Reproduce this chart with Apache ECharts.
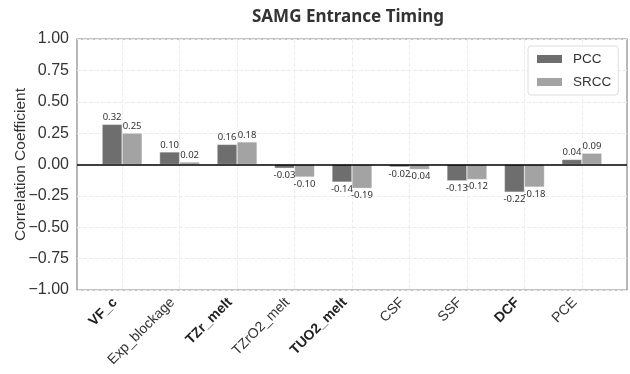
<!DOCTYPE html>
<html>
<head>
<meta charset="utf-8">
<script src="https://cdn.jsdelivr.net/npm/echarts@6/dist/echarts.min.js"></script>
<style>
  html, body { margin: 0; padding: 0; background: #ffffff; }
  #chart { width: 630px; height: 374px; }
</style>
</head>
<body>
<div id="chart"></div>
<script>
// Parameters and their correlation with the SAMG entrance time
const categories = ['VF_c', 'Exp_blockage', 'TZr_melt', 'TZrO2_melt', 'TUO2_melt', 'CSF', 'SSF', 'DCF', 'PCE'];
const boldCategories = ['VF_c', 'TZr_melt', 'TUO2_melt', 'DCF'];
const pcc = [0.32, 0.10, 0.16, -0.03, -0.14, -0.02, -0.13, -0.22, 0.04];
const srcc = [0.25, 0.02, 0.18, -0.10, -0.19, -0.04, -0.12, -0.18, 0.09];
const seriesNames = ['PCC', 'SRCC'];
const titleText = 'SAMG Entrance Timing';
const yAxisTitle = 'Correlation Coefficient';

const positions = categories.map((_, i) => i);

function barData(values) {
  return values.map((v, i) => ({
    value: [positions[i], v],
    label: { position: v >= 0 ? 'top' : 'bottom' }
  }));
}

const valueLabel = {
  show: true,
  fontSize: 9.5,
  fontFamily: 'Noto Sans',
  color: '#333333',
  distance: 2,
  formatter: p => p.value[1].toFixed(2)
};

const chart = echarts.init(document.getElementById('chart'), null, { renderer: 'canvas' });

chart.setOption({
  animation: false,
  backgroundColor: '#ffffff',
  title: {
    text: titleText,
    left: 343,
    textAlign: 'center',
    top: 4,
    textStyle: { fontFamily: 'Noto Sans', fontWeight: 'bold', fontSize: 17, color: '#333333' }
  },
  legend: {
    data: seriesNames,
    orient: 'vertical',
    left: 528,
    top: 46,
    padding: [6, 7, 6, 7],
    icon: 'rect',
    itemWidth: 27,
    itemHeight: 10,
    itemGap: 9,
    backgroundColor: '#ffffff',
    borderColor: '#dddddd',
    borderWidth: 1,
    borderRadius: 3,
    textStyle: { fontFamily: 'Liberation Sans', fontSize: 13.5, color: '#333333', padding: [0, 0, 0, 5] }
  },
  grid: {
    left: 77,
    right: 3,
    top: 39,
    bottom: 84,
    outerBoundsMode: 'none',
    containLabel: false,
    show: true,
    borderColor: '#888888',
    borderWidth: 1.2,
    backgroundColor: 'transparent'
  },
  xAxis: {
    type: 'value',
    min: -0.785,
    max: 8.785,
    axisLine: { show: false },
    axisTick: { show: false, customValues: positions },
    splitLine: { show: true, lineStyle: { color: '#ececec', type: 'dashed', width: 1 } },
    axisLabel: {
      customValues: positions,
      rotate: 45,
      margin: 13,
      verticalAlign: 'bottom',
      padding: [0, 3, 0, 0],
      fontFamily: 'Liberation Sans',
      fontSize: 14,
      color: '#333333',
      formatter: v => {
        const name = categories[Math.round(v)];
        return boldCategories.includes(name) ? '{b|' + name + '}' : '{n|' + name + '}';
      },
      rich: {
        b: { fontFamily: 'Liberation Sans', fontSize: 14, fontWeight: 'bold', color: '#222222' },
        n: { fontFamily: 'Liberation Sans', fontSize: 14, color: '#333333' }
      }
    }
  },
  yAxis: {
    type: 'value',
    min: -1,
    max: 1,
    interval: 0.25,
    name: yAxisTitle,
    nameLocation: 'middle',
    nameGap: 48,
    nameMoveOverlap: false,
    nameTextStyle: { fontFamily: 'Liberation Sans', fontSize: 15.5, color: '#333333' },
    axisLine: { show: false },
    axisTick: { show: false },
    splitLine: { show: true, lineStyle: { color: '#ececec', type: 'dashed', width: 1 } },
    axisLabel: {
      margin: 8,
      fontFamily: 'Liberation Sans',
      fontSize: 16,
      color: '#333333',
      formatter: v => (v < 0 ? '\u2212' : '') + Math.abs(v).toFixed(2)
    }
  },
  series: [
    {
      name: seriesNames[0],
      type: 'bar',
      barWidth: 20,
      barGap: '0%',
      itemStyle: { color: '#6e6e6e', borderColor: '#ffffff', borderWidth: 0.4 },
      label: valueLabel,
      data: barData(pcc),
      markLine: {
        silent: true,
        symbol: 'none',
        label: { show: false },
        lineStyle: { color: '#000000', width: 1.5, type: 'solid' },
        data: [{ yAxis: 0 }]
      },
      z: 3
    },
    {
      name: seriesNames[1],
      type: 'bar',
      barWidth: 20,
      barGap: '0%',
      itemStyle: { color: '#a3a3a3', borderColor: '#ffffff', borderWidth: 0.4 },
      label: valueLabel,
      data: barData(srcc),
      z: 3
    }
  ]
});
</script>
</body>
</html>
